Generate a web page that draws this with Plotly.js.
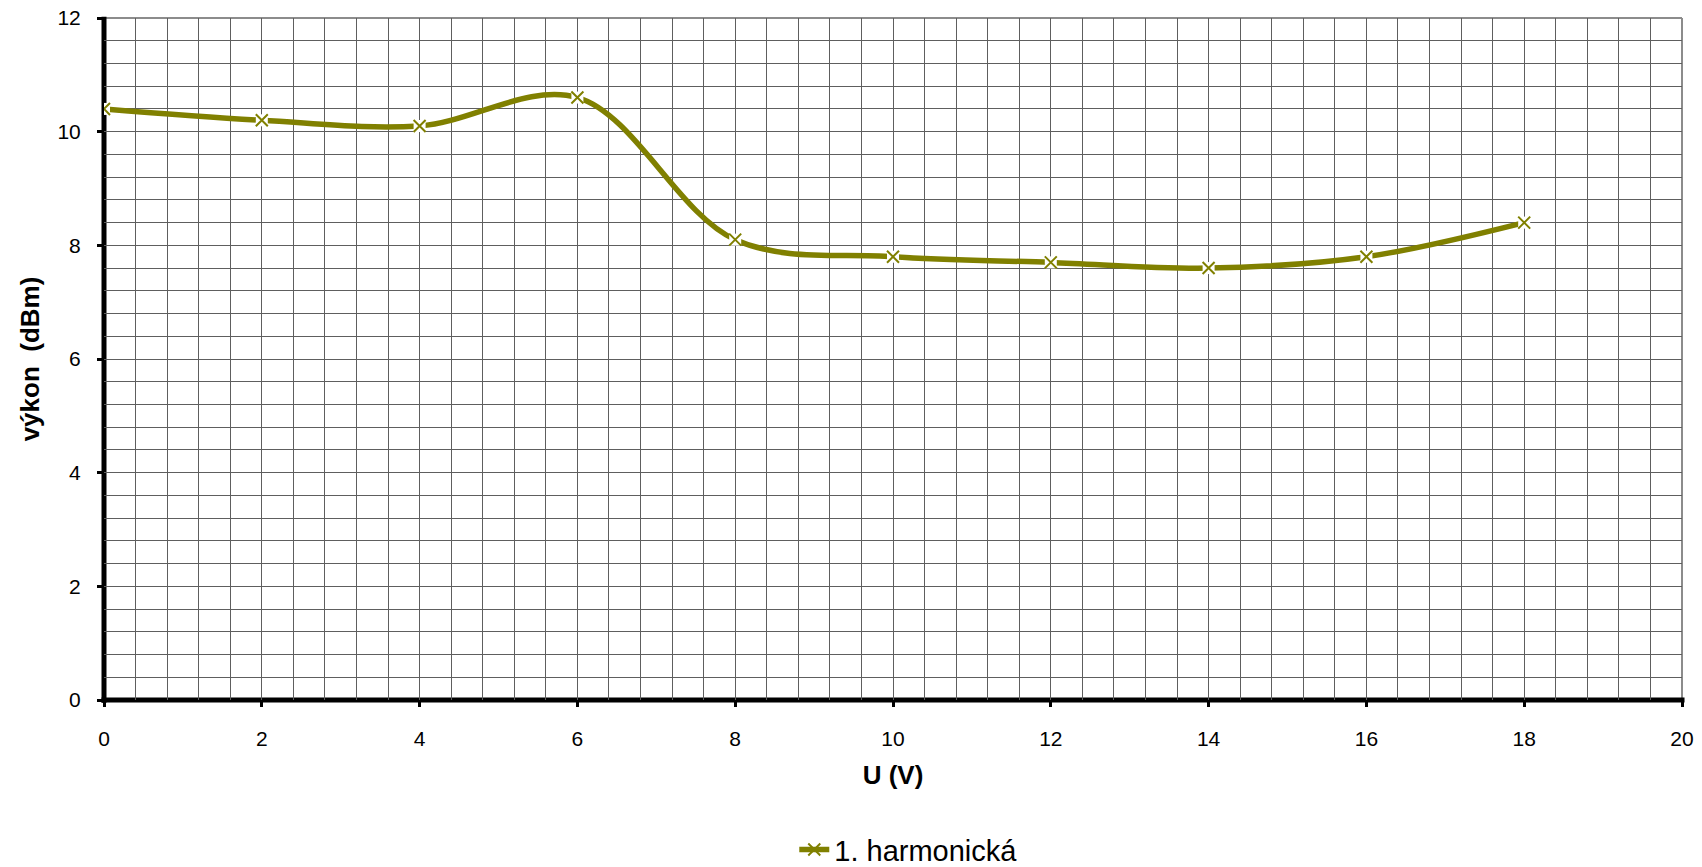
<!DOCTYPE html>
<html>
<head>
<meta charset="utf-8">
<script src="https://cdn.plot.ly/plotly-3.0.1.min.js"></script>
<style>
  html, body { margin: 0; padding: 0; background: #ffffff; overflow: hidden; }
  #chart { width: 1702px; height: 867px; }
</style>
</head>
<body>
<div id="chart"></div>
<script>
// Data
const napetiU = [0, 2, 4, 6, 8, 10, 12, 14, 16, 18];          // U (V)
const vykonDBm = [10.4, 10.2, 10.1, 10.6, 8.1, 7.8, 7.7, 7.6, 7.8, 8.4]; // výkon (dBm)
const seriesName = '1. harmonická';
const xTitle = 'U (V)';
const yTitle = 'výkon  (dBm)';

const olive = '#808000';
const fontFam = 'Arial, "Liberation Sans", sans-serif';

const traces = [
  { // smoothed line
    x: napetiU, y: vykonDBm, type: 'scatter', mode: 'lines',
    line: { color: olive, width: 5.5, shape: 'spline', smoothing: 1 },
    showlegend: false, hoverinfo: 'skip'
  },
  { // white gaps around markers
    x: napetiU, y: vykonDBm, type: 'scatter', mode: 'markers',
    marker: { symbol: 'square', size: 12, color: '#ffffff', line: { width: 0 } },
    showlegend: false, hoverinfo: 'skip'
  },
  { // x markers
    x: napetiU, y: vykonDBm, type: 'scatter', mode: 'markers',
    marker: { symbol: 'x-thin', size: 12, color: olive, line: { color: olive, width: 2 } },
    showlegend: false
  },
  { // legend entry
    x: [null], y: [null], type: 'scatter', mode: 'lines+markers', name: seriesName,
    line: { color: olive, width: 5.5 },
    marker: { symbol: 'x-thin', size: 12, color: olive, line: { color: olive, width: 2 } },
    showlegend: true
  }
];

const gridCol = '#5e5e5e';

const layout = {
  width: 1702, height: 867,
  margin: { l: 104, r: 20, t: 18, b: 167, pad: 0 },
  paper_bgcolor: '#ffffff', plot_bgcolor: '#ffffff',
  font: { family: fontFam, color: '#000000', size: 21 },
  showlegend: true,
  legend: {
    orientation: 'h', xref: 'paper', x: 0.51, xanchor: 'center',
    yref: 'container', y: 0.02, yanchor: 'middle',
    font: { family: fontFam, size: 29, color: '#000000' },
    bgcolor: 'rgba(0,0,0,0)', borderwidth: 0
  },
  xaxis: {
    range: [0, 20], tick0: 0, dtick: 2, autorange: false,
    ticks: 'outside', ticklen: 6, tickwidth: 3, tickcolor: '#000000',
    ticklabelstandoff: 14,
    tickfont: { family: fontFam, size: 21, color: '#000000' },
    showgrid: true, gridcolor: gridCol, gridwidth: 1,
    minor: { dtick: 0.4, tick0: 0, showgrid: true, gridcolor: gridCol, gridwidth: 1, ticks: '' },
    zeroline: false, showline: false,
    title: { text: xTitle, font: { family: fontFam, size: 26, color: '#000000', weight: 'bold' }, standoff: 16 },
    automargin: false, fixedrange: true
  },
  yaxis: {
    range: [0, 12], tick0: 0, dtick: 2, autorange: false,
    ticks: 'outside', ticklen: 6, tickwidth: 3, tickcolor: '#000000',
    ticklabelstandoff: 12,
    tickfont: { family: fontFam, size: 21, color: '#000000' },
    showgrid: true, gridcolor: gridCol, gridwidth: 1,
    minor: { dtick: 0.4, tick0: 0, showgrid: true, gridcolor: gridCol, gridwidth: 1, ticks: '' },
    zeroline: false, showline: false,
    title: { text: yTitle, font: { family: fontFam, size: 26, color: '#000000', weight: 'bold' }, standoff: 10 },
    automargin: false, fixedrange: true
  },
  shapes: [
    { type: 'line', xref: 'paper', yref: 'paper', x0: 0, x1: 1, y0: 1, y1: 1, line: { color: '#8c8c8c', width: 2 }, layer: 'between' },
    { type: 'line', xref: 'paper', yref: 'paper', x0: 1, x1: 1, y0: 0, y1: 1, line: { color: '#8c8c8c', width: 2 }, layer: 'between' },
    { type: 'line', xref: 'paper', yref: 'paper', x0: 0, x1: 0, y0: -0.004, y1: 1.002, line: { color: '#000000', width: 5 }, layer: 'between' },
    { type: 'line', xref: 'paper', yref: 'paper', x0: -0.0016, x1: 1.0016, y0: 0, y1: 0, line: { color: '#000000', width: 5 }, layer: 'between' }
  ]
};

Plotly.newPlot('chart', traces, layout, { displayModeBar: false, staticPlot: true });
</script>
</body>
</html>
